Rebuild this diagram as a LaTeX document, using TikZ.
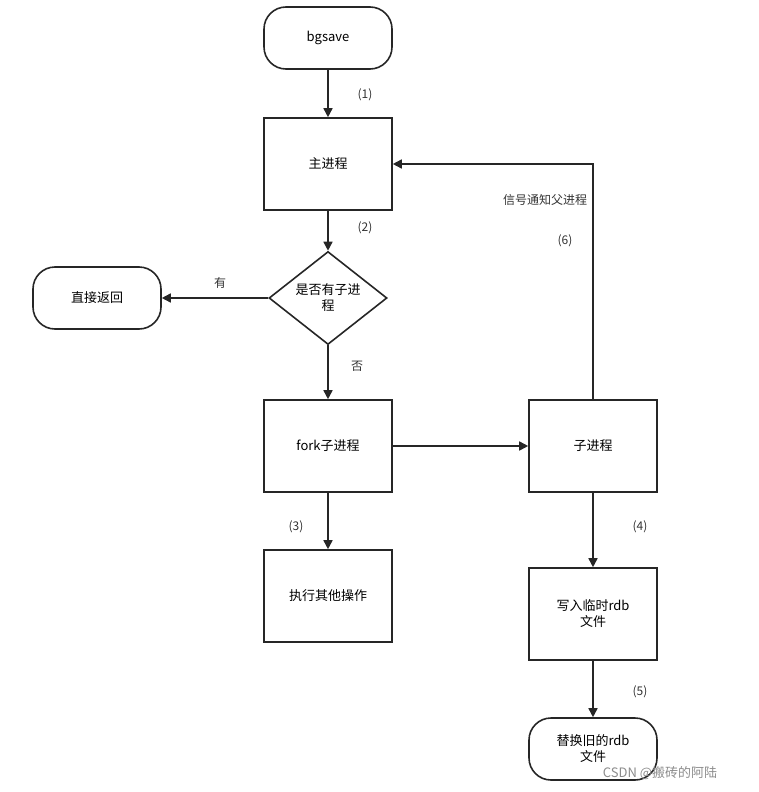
\documentclass[tikz,border=0pt]{standalone}
\usepackage{fontspec}
\setmainfont{Noto Sans CJK SC}
\usetikzlibrary{shapes.geometric,arrows.meta}
\begin{document}
\begin{tikzpicture}[x=1pt,y=-1pt,
  box/.style={draw=black!85,line width=1.6pt,minimum width=128pt,minimum height=92pt,align=center,font=\fontsize{13}{16}\selectfont,inner sep=2pt},
  term/.style={box,rounded corners=22pt,minimum height=62pt},
  dia/.style={draw=black!85,line width=1.6pt,diamond,minimum width=118pt,minimum height=93pt,align=center,inner sep=0pt,font=\fontsize{13}{16}\selectfont},
  arr/.style={draw=black!85,line width=1.6pt,-{Triangle[length=9pt,width=9pt]}},
  lab/.style={font=\fontsize{12}{14}\selectfont,text=black!80}]
\useasboundingbox (0,0) rectangle (759,792);
\node[term] (bg) at (328,38) {bgsave};
\node[box] (main) at (328,164) {主进程};
\node[dia] (d) at (328,298) {是否有子进\\程};
\node[term] (ret) at (97,298) {直接返回};
\node[box] (fork) at (328,446) {fork子进程};
\node[box] (other) at (328,596) {执行其他操作};
\node[box] (child) at (593,446) {子进程};
\node[box] (write) at (593,614) {写入临时rdb\\文件};
\node[term] (rep) at (593,749) {替换旧的rdb\\文件};
\draw[arr] (bg) -- (main);
\draw[arr] (main) -- (d);
\draw[arr] (d) -- (ret);
\draw[arr] (d) -- (fork);
\draw[arr] (fork) -- (other);
\draw[arr] (fork) -- (child);
\draw[arr] (child) -- (write);
\draw[arr] (write) -- (rep);
\draw[arr] (child.north) |- (main.east);
\node[lab] at (365,95) {(1)};
\node[lab] at (365,228) {(2)};
\node[lab] at (220,283) {有};
\node[lab] at (357,366) {否};
\node[lab] at (296,527) {(3)};
\node[lab] at (640,527) {(4)};
\node[lab] at (640,692) {(5)};
\node[lab] at (565,241) {(6)};
\node[lab] at (545,200) {信号通知父进程};
\node[font=\fontsize{13}{15}\selectfont,text=black!45] at (660,773) {CSDN @搬砖的阿陆};
\end{tikzpicture}
\end{document}
